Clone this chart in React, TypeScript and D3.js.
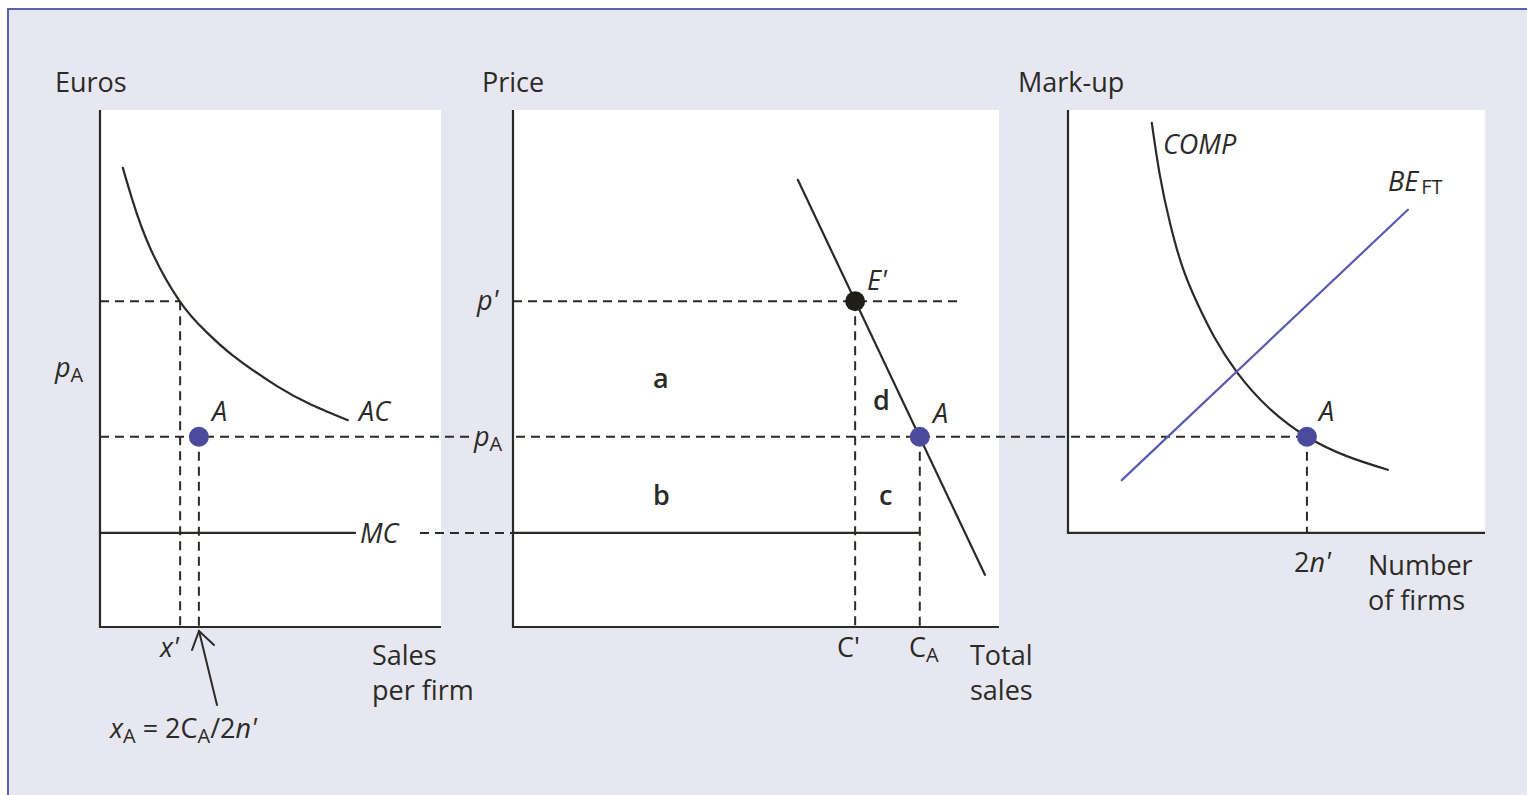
import React from "react";
import * as d3 from "d3";

// ---- data (abstract units; y is shared across the three panels) ----
const priceLevels = { pPrime: 6.3, pA: 3.68, mc: 1.82 };
const acCurve: [number, number][] = [
  [0.67, 8.88], [0.94, 8.28], [1.47, 7.33], [2.35, 6.29], [3.1, 5.72], [3.9, 5.25], [5.19, 4.66], [6.2, 4.3], [7.27, 4.0],
];
const salesPerFirm = { xPrime: 2.35, xA: 2.9 };
const demandLine: [number, number][] = [[5.86, 8.65], [9.71, 1.01]];
const totalSales = { cPrime: 7.04, cA: 8.37, pPrimeEnd: 9.26 };
const compCurve: [number, number][] = [
  [2.01, 9.75], [2.2, 8.75], [2.45, 7.8], [2.75, 6.95], [3.09, 6.28], [3.5, 5.62], [4.05, 4.93], [4.8, 4.25], [5.73, 3.68], [6.7, 3.3], [7.67, 3.04],
];
const beLine: [number, number][] = [[1.29, 2.84], [8.15, 8.07]];
const firms = { nA: 5.73 };
const panelTitles = ["Euros", "Price", "Mark-up"];

const INK = "#2b2a26";
const BLUE = "#4b4b9e";
const BLUE_LINE = "#5a5aae";
const BG = "#e7e7f1";
const FONT = "'Open Sans', 'Noto Sans', sans-serif";
const DASH = "9 6";

export default function App() {
  const y = d3.scaleLinear().domain([0, 10]).range([627, 110]);
  const x1 = d3.scaleLinear().domain([0, 10]).range([100, 441]);
  const x2 = d3.scaleLinear().domain([0, 10]).range([513, 999]);
  const x3 = d3.scaleLinear().domain([0, 10]).range([1068, 1485]);

  const line1 = d3.line<[number, number]>().x((d) => x1(d[0])).y((d) => y(d[1])).curve(d3.curveNatural);
  const line2 = d3.line<[number, number]>().x((d) => x2(d[0])).y((d) => y(d[1]));
  const line3 = d3.line<[number, number]>().x((d) => x3(d[0])).y((d) => y(d[1])).curve(d3.curveNatural);
  const line3s = d3.line<[number, number]>().x((d) => x3(d[0])).y((d) => y(d[1]));

  const { pPrime, pA, mc } = priceLevels;
  const tsz = 27;
  const txt = { fontFamily: FONT, fontSize: tsz, fill: INK } as const;
  const it = { ...txt, fontStyle: "italic" } as const;

  return (
    <svg width={1527} height={795} style={{ position: "absolute", left: 0, top: 0, display: "block" }}>
      <rect x={0} y={0} width={1527} height={795} fill="#ffffff" />
      <rect x={8} y={9} width={1530} height={800} fill={BG} stroke="#5a62ad" strokeWidth={2} />

      {/* panel backgrounds */}
      <rect x={x1(0)} y={y(10)} width={x1(10) - x1(0)} height={y(0) - y(10)} fill="#fff" />
      <rect x={x2(0)} y={y(10)} width={x2(10) - x2(0)} height={y(0) - y(10)} fill="#fff" />
      <rect x={x3(0)} y={y(10)} width={x3(10) - x3(0)} height={y(mc) - y(10)} fill="#fff" />

      {/* titles */}
      <text x={55} y={92} {...txt}>{panelTitles[0]}</text>
      <text x={482} y={92} {...txt}>{panelTitles[1]}</text>
      <text x={1018} y={92} {...txt}>{panelTitles[2]}</text>

      {/* ---------- dashed guides ---------- */}
      <g stroke={INK} strokeWidth={2} strokeDasharray={DASH} fill="none">
        {/* panel 1 */}
        <line x1={x1(0)} x2={x1(salesPerFirm.xPrime)} y1={y(pPrime)} y2={y(pPrime)} />
        <line x1={x1(salesPerFirm.xPrime)} x2={x1(salesPerFirm.xPrime)} y1={y(pPrime)} y2={y(0)} />
        <line x1={x1(salesPerFirm.xA)} x2={x1(salesPerFirm.xA)} y1={y(pA)} y2={y(0)} />
        <line x1={x1(0)} x2={470} y1={y(pA)} y2={y(pA)} />
        <line x1={420} x2={x2(0)} y1={y(mc)} y2={y(mc)} />
        {/* panel 2 */}
        <line x1={x2(0) - 12} x2={x3(firms.nA)} y1={y(pA)} y2={y(pA)} />
        <line x1={x2(0)} x2={x2(totalSales.pPrimeEnd)} y1={y(pPrime)} y2={y(pPrime)} />
        <line x1={x2(totalSales.cPrime)} x2={x2(totalSales.cPrime)} y1={y(pPrime)} y2={y(0)} />
        <line x1={x2(totalSales.cA)} x2={x2(totalSales.cA)} y1={y(pA)} y2={y(0)} />
        {/* panel 3 */}
        <line x1={x3(firms.nA)} x2={x3(firms.nA)} y1={y(pA)} y2={y(mc)} />
      </g>
      {/* knock-out behind the pA label between panels */}
      <rect x={471} y={y(pA) - 14} width={40} height={28} fill={BG} />

      {/* ---------- axes ---------- */}
      <g stroke={INK} strokeWidth={2.2} fill="none">
        <path d={`M${x1(0)},${y(10)}V${y(0)}H${x1(10)}`} />
        <path d={`M${x2(0)},${y(10)}V${y(0)}H${x2(10)}`} />
        <path d={`M${x3(0)},${y(10)}V${y(mc)}H${x3(10)}`} />
      </g>

      {/* ---------- curves ---------- */}
      <g fill="none" strokeWidth={2.2} strokeLinecap="round">
        <path d={line1(acCurve) || ""} stroke={INK} />
        <line x1={x1(0)} x2={355} y1={y(mc)} y2={y(mc)} stroke={INK} />
        <line x1={x2(0)} x2={x2(totalSales.cA)} y1={y(mc)} y2={y(mc)} stroke={INK} />
        <path d={line2(demandLine) || ""} stroke={INK} />
        <path d={line3(compCurve) || ""} stroke={INK} />
        <path d={line3s(beLine) || ""} stroke={BLUE_LINE} />
      </g>

      {/* ---------- points ---------- */}
      <circle cx={x1(salesPerFirm.xA)} cy={y(pA)} r={10} fill={BLUE} />
      <circle cx={x2(totalSales.cPrime)} cy={y(pPrime)} r={10} fill="#1e1d18" />
      <circle cx={x2(totalSales.cA)} cy={y(pA)} r={10} fill={BLUE} />
      <circle cx={x3(firms.nA)} cy={y(pA)} r={10} fill={BLUE} />

      {/* ---------- arrow ---------- */}
      <g stroke={INK} strokeWidth={2} fill="none" strokeLinecap="round">
        <line x1={217} y1={705} x2={199} y2={631} />
        <path d="M192,650 L199,631 L214,645" />
      </g>

      {/* ---------- labels panel 1 ---------- */}
      <text x={55} y={377} {...it}>p<tspan fontStyle="normal" fontSize={20} dy={5}>A</tspan></text>
      <text x={212} y={421} {...it}>A</text>
      <text x={359} y={421} {...it}>AC</text>
      <text x={360} y={543} {...it}>MC</text>
      <text x={160} y={657} {...it}>x'</text>
      <text x={372} y={665} {...txt}>Sales</text>
      <text x={372} y={700} {...txt}>per firm</text>
      <text x={110} y={738} {...txt}>
        <tspan fontStyle="italic">x</tspan>
        <tspan fontSize={20} dy={5}>A</tspan>
        <tspan dy={-5}> = 2C</tspan>
        <tspan fontSize={20} dy={5}>A</tspan>
        <tspan dy={-5}>/2</tspan>
        <tspan fontStyle="italic">n'</tspan>
      </text>

      {/* ---------- labels panel 2 ---------- */}
      <text x={477} y={310} {...it}>p'</text>
      <text x={474} y={446} {...it}>p<tspan fontStyle="normal" fontSize={20} dy={5}>A</tspan></text>
      <text x={867} y={290} {...it}>E'</text>
      <text x={933} y={423} {...it}>A</text>
      <text x={653} y={388} {...txt} fontWeight={600}>a</text>
      <text x={653} y={505} {...txt} fontWeight={600}>b</text>
      <text x={873} y={410} {...txt} fontWeight={600}>d</text>
      <text x={879} y={505} {...txt} fontWeight={600}>c</text>
      <text x={837} y={657} {...txt}>C'</text>
      <text x={909} y={657} {...txt}>C<tspan fontSize={20} dy={5}>A</tspan></text>
      <text x={970} y={665} {...txt}>Total</text>
      <text x={970} y={700} {...txt}>sales</text>

      {/* ---------- labels panel 3 ---------- */}
      <text x={1163} y={154} {...it}>COMP</text>
      <text x={1388} y={191} {...it}>BE<tspan fontStyle="normal" fontSize={20} dx={3} dy={3}>FT</tspan></text>
      <text x={1319} y={421} {...it}>A</text>
      <text x={1294} y={572} {...txt}>2<tspan fontStyle="italic">n'</tspan></text>
      <text x={1368} y={575} {...txt}>Number</text>
      <text x={1368} y={610} {...txt}>of firms</text>
    </svg>
  );
}
